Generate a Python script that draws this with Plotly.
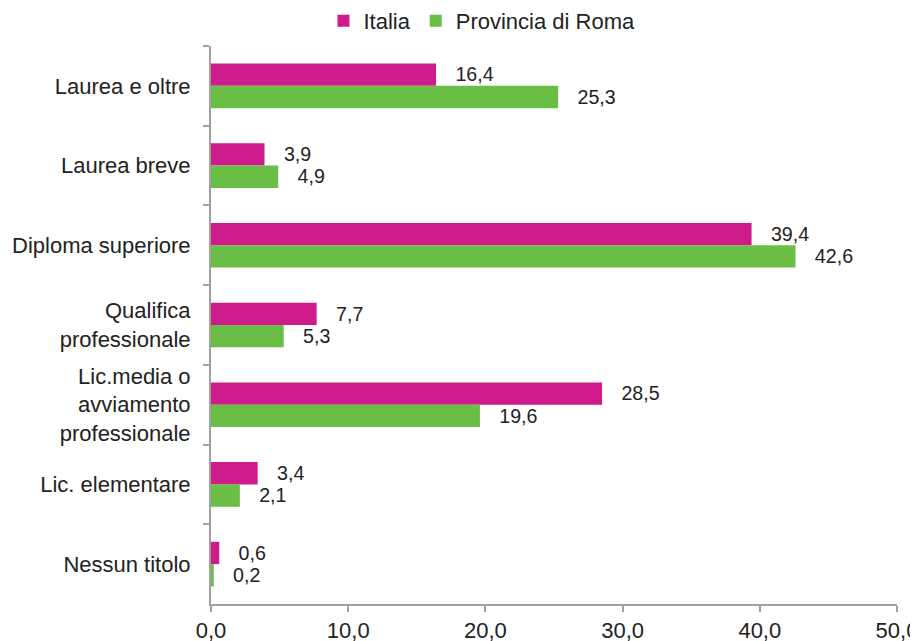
import plotly.graph_objects as go

# ---------------------------------------------------------------

categorie = [
    "Laurea e oltre",
    "Laurea breve",
    "Diploma superiore",
    "Qualifica<br>professionale",
    "Lic.media o<br>avviamento<br>professionale",
    "Lic. elementare",
    "Nessun titolo",
]
italia = [16.4, 3.9, 39.4, 7.7, 28.5, 3.4, 0.6]
roma = [25.3, 4.9, 42.6, 5.3, 19.6, 2.1, 0.2]
x_ticks = [0, 10, 20, 30, 40, 50]

MAGENTA = "#CE1A8A"
GREEN = "#6ABD45"
GREY = "#A0A0A0"
FONT = "Liberation Sans, Arial, sans-serif"

# ---------------------------------------------------------------

fig = go.Figure()

for name, vals, col in [
    ("Italia", italia, MAGENTA),
    ("Provincia di Roma", roma, GREEN),
]:
    fig.add_trace(go.Bar(
        name=name,
        y=categorie,
        x=vals,
        orientation="h",
        marker=dict(color=col, line=dict(width=0)),
        text=vals,
        texttemplate="   %{x:.1f}",
        textposition="outside",
        textfont=dict(size=22, color="#222222"),
        cliponaxis=False,
    ))

# page body adds an 8px offset, margins compensate for it
fig.update_layout(
    width=918,
    height=641,
    barmode="group",
    bargap=0.44,
    bargroupgap=0,
    separators=",.",
    plot_bgcolor="white",
    paper_bgcolor="white",
    font=dict(family=FONT, size=22, color="#222222"),
    margin=dict(l=203, r=29, t=38, b=45, autoexpand=False),
    legend=dict(
        orientation="h",
        x=0.395,
        xanchor="center",
        y=1.045,
        yanchor="middle",
        traceorder="normal",
        font=dict(size=22),
        itemwidth=30,
    ),
)

fig.update_xaxes(
    range=[0, 50],
    tickvals=x_ticks,
    tickformat=".1f",
    showgrid=False,
    zeroline=False,
    showline=True,
    linecolor=GREY,
    linewidth=2,
    ticks="outside",
    tickcolor=GREY,
    tickwidth=2,
    ticklen=6,
    automargin=False,
)

fig.update_yaxes(
    type="category",
    autorange="reversed",
    tickson="boundaries",
    showgrid=False,
    showline=True,
    linecolor=GREY,
    linewidth=2,
    ticks="outside",
    tickcolor=GREY,
    tickwidth=2,
    ticklen=6,
    ticklabelstandoff=14,
    automargin=False,
)

fig.write_html("out.html")
